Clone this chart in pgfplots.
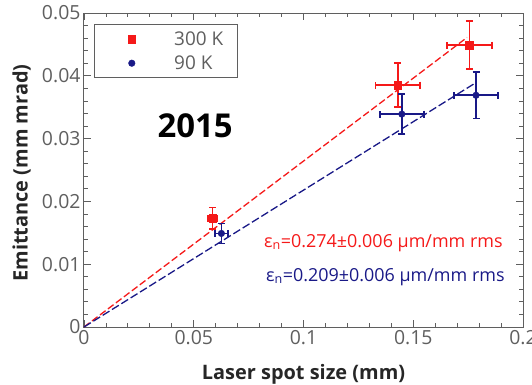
\documentclass[border=0pt]{standalone}
\usepackage{fontspec}
\setmainfont{Open Sans}
\usepackage{pgfplots}
\pgfplotsset{compat=1.18}
\definecolor{myred}{RGB}{245,25,25}
\definecolor{myblue}{RGB}{25,25,135}
\definecolor{frame}{RGB}{95,95,95}
\pgfplotsset{
  legred/.style={legend image code/.code={\path (0bp,0bp) (46bp,0bp); \draw[myred, fill=myred, mark=square*, mark size=3.8bp, solid, line width=0.4bp] plot[only marks] coordinates {(25bp,0bp)};}},
  legblue/.style={legend image code/.code={\path (0bp,0bp) (46bp,0bp); \draw[myblue, fill=myblue, mark=*, mark size=3.3bp, solid, line width=0.4bp] plot[only marks] coordinates {(25bp,0bp)};}},
}
\begin{document}
\begin{tikzpicture}
\useasboundingbox (-84bp,-58bp) rectangle (448bp,327bp);
\begin{axis}[
  at={(0,0)}, anchor=south west, scale only axis,
  width=439bp, height=314bp,
  xmin=0, xmax=0.2, ymin=0, ymax=0.05,
  scaled ticks=false,
  xtick={0,0.05,0.1,0.15,0.2}, xticklabels={0,0.05,0.1,0.15,0.2},
  ytick={0,0.01,0.02,0.03,0.04,0.05}, yticklabels={0,0.01,0.02,0.03,0.04,0.05},
  minor x tick num=4, minor y tick num=4,
  tick align=inside, major tick length=7bp, minor tick length=4bp,
  axis line style={frame, line width=1bp},
  every tick/.style={frame, line width=0.8bp},
  /pgf/number format/assume math mode=true,
  ticklabel style={font=\fontsize{19.5}{22}\selectfont, text=frame},
  xlabel={\fontsize{20}{23}\selectfont\bfseries Laser spot size (mm)},
  ylabel={\fontsize{20}{23}\selectfont\bfseries Emittance (mm mrad)},
  label style={text=black!85},
  xlabel style={at={(axis description cs:0.5,-0.15)}, anchor=center},
  ylabel style={at={(axis description cs:-0.142,0.49)}, anchor=center},
  legend style={at={(axis description cs:0.0228,0.965)}, anchor=north west,
    draw=frame, line width=0.8bp, font=\fontsize{19}{22}\selectfont, text=frame,
    inner xsep=12bp, inner ysep=5bp, row sep=5bp, column sep=19bp},
  legend cell align=left,
]
\addlegendimage{legred}
\addlegendentry{300 K}
\addlegendimage{legblue}
\addlegendentry{90 K}

\addplot[myred, line width=1.3bp, dash pattern=on 7bp off 3bp, forget plot] coordinates {(0,0) (0.1745,0.0461)};
\addplot[myblue, line width=1.3bp, dash pattern=on 8bp off 3bp, forget plot] coordinates {(0,0) (0.1785,0.0389)};

\addplot[myred, only marks, mark=square*, mark size=3.8bp, forget plot,
  error bars/.cd, x dir=both, x explicit, y dir=both, y explicit,
  error bar style={line width=1.6bp, myred},
  error mark options={rotate=90, mark size=3.5bp, line width=1.6bp, myred}]
  coordinates {
  (0.0586,0.0173) +- (0.002,0.0017)
  (0.143,0.0385) +- (0.0102,0.0035)
  (0.1756,0.0449) +- (0.0102,0.0038)
};
\addplot[myblue, only marks, mark=*, mark size=3.3bp, forget plot,
  error bars/.cd, x dir=both, x explicit, y dir=both, y explicit,
  error bar style={line width=1.6bp, myblue},
  error mark options={rotate=90, mark size=3.5bp, line width=1.6bp, myblue}]
  coordinates {
  (0.0626,0.0149) +- (0.003,0.0016)
  (0.1448,0.0339) +- (0.010,0.0032)
  (0.1786,0.0369) +- (0.010,0.0037)
};

\node[anchor=east, text=myred, font=\fontsize{18}{21}\selectfont] at (axis cs:0.1923,0.01338) {ε\textsubscript{n}=0.274±0.006 μm/mm rms};
\node[anchor=east, text=myblue, font=\fontsize{18}{21}\selectfont] at (axis cs:0.1932,0.0080) {ε\textsubscript{n}=0.209±0.006 μm/mm rms};
\node[font=\fontsize{33}{40}\selectfont\bfseries] at (axis cs:0.0506,0.0320) {2015};
\end{axis}
\end{tikzpicture}
\end{document}
